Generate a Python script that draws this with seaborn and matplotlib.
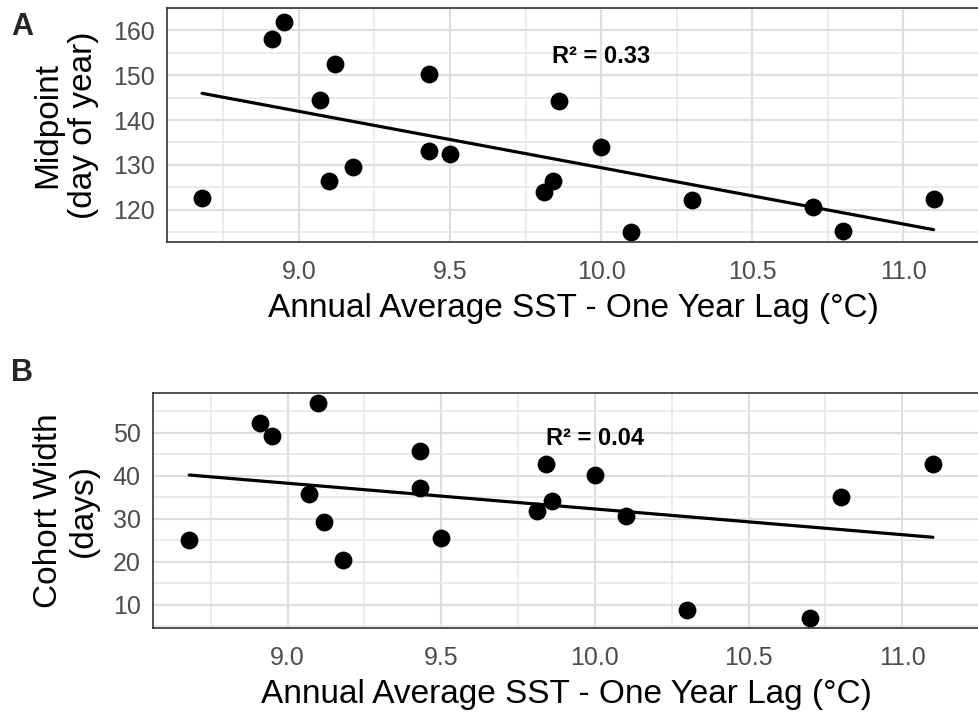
import numpy as np
import pandas as pd
import matplotlib
matplotlib.use("Agg")
import matplotlib.pyplot as plt
import seaborn as sns

# ---- data ----
sst_a = [8.68, 8.91, 8.95, 9.07, 9.10, 9.12, 9.18, 9.43, 9.43, 9.50,
         9.81, 9.84, 9.86, 10.00, 10.10, 10.30, 10.70, 10.80, 11.10]
midpoint = [122.6, 158.0, 161.9, 144.4, 126.3, 152.6, 129.5, 150.3, 133.1, 132.5,
            123.9, 126.3, 144.2, 134.0, 115.0, 122.2, 120.6, 115.3, 122.4]

sst_b = [8.68, 8.91, 8.95, 9.07, 9.10, 9.12, 9.18, 9.43, 9.43, 9.50,
         9.81, 9.84, 9.86, 10.00, 10.10, 10.30, 10.70, 10.80, 11.10]
width = [25.1, 52.2, 49.2, 35.7, 56.8, 29.1, 20.4, 45.6, 37.2, 25.4,
         31.7, 42.6, 34.0, 40.2, 30.7, 8.7, 6.8, 34.9, 42.7]

x_ticks = [9.0, 9.5, 10.0, 10.5, 11.0]
x_ticklabels = ["9.0", "9.5", "10.0", "10.5", "11.0"]
a_yticks = [120, 130, 140, 150, 160]
b_yticks = [10, 20, 30, 40, 50]
r2_a = "R² = 0.33"
r2_b = "R² = 0.04"
xlabel = "Annual Average SST - One Year Lag (°C)"
ylabel_a = "Midpoint\n(day of year)"
ylabel_b = "Cohort Width\n(days)"

df_a = pd.DataFrame({"sst": sst_a, "val": midpoint})
df_b = pd.DataFrame({"sst": sst_b, "val": width})

sns.set_style("white")
plt.rcParams["font.family"] = ["Liberation Sans", "DejaVu Sans"]

W, H = 979, 715
fig = plt.figure(figsize=(W / 100, H / 100), dpi=100)

def px_axes(l, t, r, b):
    return fig.add_axes([l / W, 1 - b / H, (r - l) / W, (b - t) / H])

axA = px_axes(167, 8, 979, 242)
axB = px_axes(153, 393, 979, 628)

def style(ax, df, xlim, ylim, yticks, ylab, r2, r2y):
    ax.set_axisbelow(True)
    sns.regplot(data=df, x="sst", y="val", ax=ax, ci=None, truncate=True,
                scatter_kws=dict(s=165, color="black", alpha=1, linewidths=0, zorder=3),
                line_kws=dict(color="black", linewidth=2.3, zorder=4))
    ax.set_xlim(*xlim)
    ax.set_ylim(*ylim)
    ax.set_xticks(x_ticks)
    ax.set_xticklabels(x_ticklabels)
    ax.set_yticks(yticks)
    xt = np.arange(8.75, 11.3, 0.5)
    yt = np.array(yticks, dtype=float)
    step = yt[1] - yt[0]
    ax.set_xticks(xt, minor=True)
    ax.set_yticks(np.arange(yt[0] - step / 2, yt[-1] + step, step), minor=True)
    ax.grid(which="major", color="#dedede", linewidth=1.5)
    ax.grid(which="minor", color="#e6e6e6", linewidth=1.1)
    ax.tick_params(which="minor", length=0)
    ax.tick_params(which="major", length=5.8, width=1.1, color="#333333",
                   labelcolor="#4d4d4d", labelsize=18, pad=3)
    ax.tick_params(axis="x", which="major", pad=7)
    for s in ["left", "top", "bottom"]:
        ax.spines[s].set_color("#333333")
        ax.spines[s].set_linewidth(1.2)
        ax.spines[s].set_visible(True)
    ax.spines["right"].set_visible(False)
    ax.set_xlabel(xlabel, fontsize=24, color="black", labelpad=6.5)
    ax.set_ylabel(ylab, fontsize=24, color="black", linespacing=1.18, labelpad=10)
    ax.text(10.0, r2y, r2, ha="center", va="center", fontsize=17,
            fontweight="bold", color="black")

style(axA, df_a, (8.564, 11.188), (112.8, 164.1), a_yticks, ylabel_a, r2_a, 154.2)
style(axB, df_b, (8.562, 11.195), (4.55, 59.2), b_yticks, ylabel_b, r2_b, 48.7)

fig.text(11 / W, 1 - 27 / H, "A", fontsize=22, fontweight="bold", va="center", ha="left")
fig.text(11 / W, 1 - 373 / H, "B", fontsize=22, fontweight="bold", va="center", ha="left")

fig.savefig("out.png", dpi=100)
